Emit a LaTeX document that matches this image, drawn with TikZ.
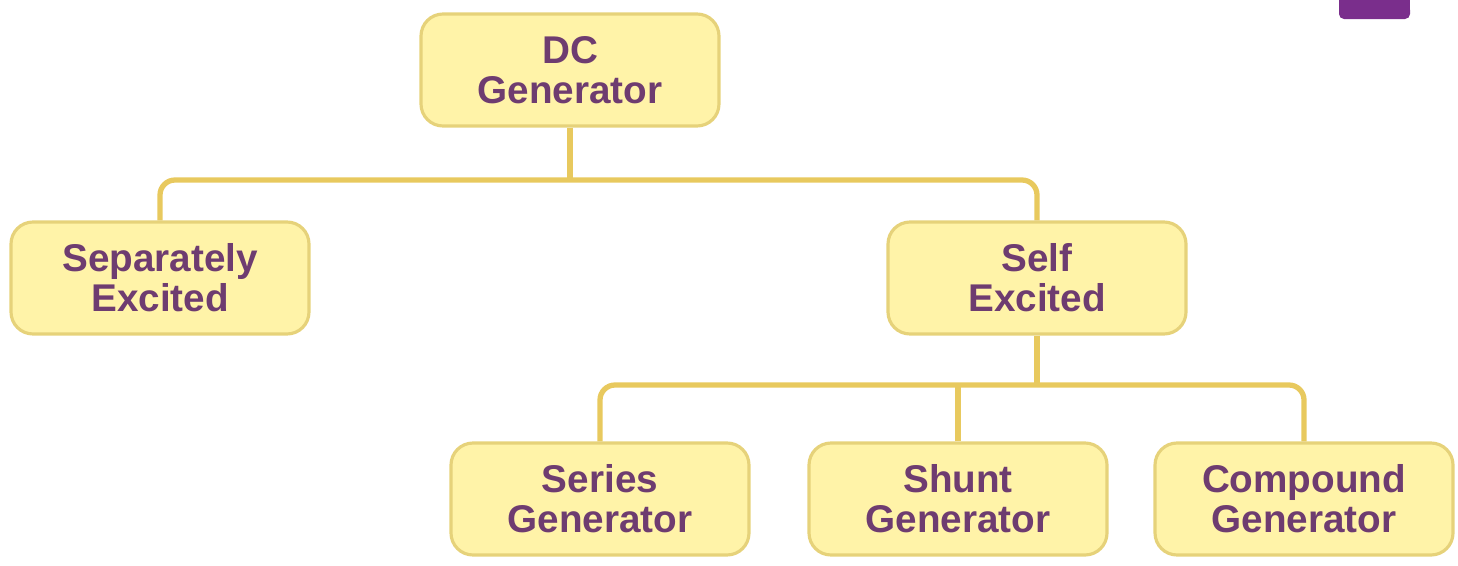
\documentclass[tikz,border=0pt]{standalone}
\usepackage{fontspec}
\setmainfont{Liberation Sans}
\definecolor{boxfill}{HTML}{FFF3A8}
\definecolor{boxdraw}{HTML}{E6D27A}
\definecolor{linecol}{HTML}{E8C95E}
\definecolor{textcol}{HTML}{6E3C70}
\definecolor{logopurple}{HTML}{7A2E8C}
\tikzset{
  genbox/.style={draw=boxdraw, line width=0.9pt, fill=boxfill, rounded corners=0.22cm,
    minimum width=2.98cm, minimum height=1.12cm, align=center, text=textcol,
    font=\bfseries\fontsize{11}{11.3}\selectfont, inner sep=0pt},
  conn/.style={draw=linecol, line width=1.5pt, rounded corners=0.15cm}
}
\begin{document}
\begin{tikzpicture}
\useasboundingbox (0,0) rectangle (14.58,5.65);
% logo fragment
\fill[logopurple, rounded corners=0.05cm] (13.39,5.46) rectangle (14.10,5.60);
\fill[logopurple] (13.39,5.52) rectangle (14.10,5.65);
% nodes
\node[genbox] (dc) at (5.70,4.95) {DC\\Generator};
\node[genbox] (sep) at (1.60,2.87) {Separately\\Excited};
\node[genbox] (self) at (10.37,2.87) {Self\\Excited};
\node[genbox] (series) at (6.00,0.66) {Series\\Generator};
\node[genbox] (shunt) at (9.58,0.66) {Shunt\\Generator};
\node[genbox] (comp) at (13.04,0.66) {Compound\\Generator};
\coordinate (bus1) at (5.70,3.85);
\coordinate (bus2) at (10.37,1.80);
% connectors
\draw[conn] (sep.north) |- (bus1) -| (self.north);
\draw[conn] (dc.south) -- (bus1);
\draw[conn] (series.north) |- (bus2) -| (comp.north);
\draw[conn] (self.south) -- (bus2);
\draw[conn] (shunt.north) -- (shunt.north |- bus2);
\end{tikzpicture}
\end{document}
